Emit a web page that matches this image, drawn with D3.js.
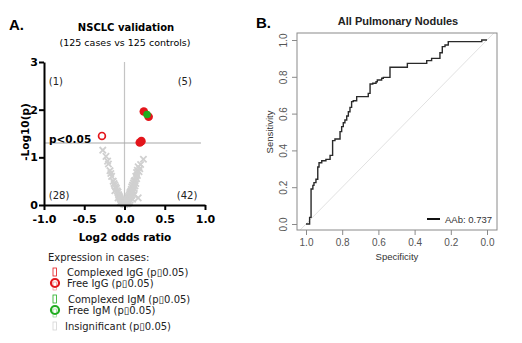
<!DOCTYPE html>
<html>
<head>
<meta charset="utf-8">
<script src="https://cdn.jsdelivr.net/npm/d3@7"></script>
<style>
  body { margin: 0; background: #fff; }
  svg { display: block; }
</style>
</head>
<body>
<div id="chart"></div>
<script>
// Volcano plot: insignificant antigens (log2 OR, -log10 p)
const insigLeft = [
  [-0.27, 1.15], [-0.23, 1.02], [-0.21, 0.92], [-0.2, 0.86], [-0.18, 0.72], [-0.17, 0.66],
  [-0.16, 0.6], [-0.14, 0.5], [-0.13, 0.45], [-0.12, 0.42], [-0.11, 0.38], [-0.1, 0.35],
  [-0.09, 0.3], [-0.08, 0.27], [-0.075, 0.22], [-0.07, 0.2], [-0.06, 0.17], [-0.055, 0.14],
  [-0.05, 0.12], [-0.04, 0.1], [-0.035, 0.08], [-0.03, 0.06], [-0.02, 0.05], [-0.015, 0.03],
  [-0.01, 0.02], [-0.12, 0.3], [-0.08, 0.15], [-0.05, 0.06]
];
const insigRight = [
  [0.235, 0.96], [0.2, 0.85], [0.17, 0.8], [0.16, 0.73], [0.15, 0.68], [0.14, 0.6],
  [0.13, 0.52], [0.12, 0.5], [0.11, 0.46], [0.1, 0.42], [0.09, 0.38], [0.085, 0.33],
  [0.08, 0.3], [0.07, 0.27], [0.065, 0.24], [0.06, 0.21], [0.05, 0.18], [0.045, 0.15],
  [0.04, 0.12], [0.03, 0.1], [0.025, 0.08], [0.02, 0.05], [0.01, 0.03], [0.005, 0.01],
  [0.17, 0.15], [0.15, 0.55], [0.13, 0.4], [0.12, 0.35], [0.11, 0.3], [0.1, 0.25],
  [0.09, 0.2], [0.08, 0.15], [0.07, 0.1], [0.06, 0.06], [0.14, 0.45], [0.16, 0.62],
  [0.18, 0.7], [0.12, 0.22], [0.1, 0.12], [0.05, 0.04], [0.19, 0.76], [0.035, 0.02]
];
// significant hits
const complexedIgG = [[0.24, 1.96], [0.3, 1.85], [0.19, 1.31], [0.21, 1.34]];
const freeIgG = [[-0.28, 1.45]];
const complexedIgM = [[0.28, 1.9]];
const quadrantCounts = [
  {label: "(1)", x: -0.94, y: 2.6},
  {label: "(5)", x: 0.66, y: 2.6},
  {label: "(28)", x: -0.94, y: 0.2},
  {label: "(42)", x: 0.65, y: 0.2}
];
const volcanoXTicks = [-1, -0.5, 0, 0.5, 1];
const volcanoYTicks = [0, 1, 2, 3];
const pThreshold = 0.05;

const legendItems = [
  {label: "Complexed IgG (p\u25AF0.05)", color: "#e3151b", circle: false},
  {label: "Free IgG (p\u25AF0.05)", color: "#e3151b", circle: true},
  {label: "Complexed IgM (p\u25AF0.05)", color: "#1fad1f", circle: false},
  {label: "Free IgM (p\u25AF0.05)", color: "#1fad1f", circle: true},
  {label: "Insignificant (p\u25AF0.05)", color: "#d4d4d4", circle: false}
];

// ROC curve for all pulmonary nodules (specificity, sensitivity)
const rocSpec = [1.0, 0.98, 0.98, 0.972, 0.972, 0.962, 0.962, 0.956, 0.956, 0.945, 0.945, 0.935, 0.935,
  0.928, 0.928, 0.913, 0.913, 0.89, 0.89, 0.867, 0.867, 0.853, 0.853, 0.84, 0.84, 0.812, 0.812,
  0.803, 0.803, 0.794, 0.794, 0.785, 0.785, 0.775, 0.775, 0.766, 0.766, 0.757, 0.757, 0.748, 0.748,
  0.739, 0.739, 0.72, 0.72, 0.656, 0.656, 0.646, 0.646, 0.631, 0.631, 0.613, 0.613, 0.606, 0.606,
  0.582, 0.582, 0.573, 0.573, 0.536, 0.536, 0.44, 0.44, 0.333, 0.333, 0.306, 0.306, 0.26, 0.26,
  0.247, 0.247, 0.232, 0.232, 0.214, 0.214, 0.029, 0.029, 0.0];
const rocSens = [0, 0, 0.036, 0.036, 0.19, 0.19, 0.21, 0.21, 0.225, 0.225, 0.243, 0.243, 0.31,
  0.31, 0.333, 0.333, 0.344, 0.344, 0.351, 0.351, 0.373, 0.373, 0.453, 0.453, 0.462, 0.462, 0.502,
  0.502, 0.529, 0.529, 0.55, 0.55, 0.565, 0.565, 0.587, 0.587, 0.61, 0.61, 0.634, 0.634, 0.665,
  0.665, 0.67, 0.67, 0.692, 0.692, 0.71, 0.71, 0.761, 0.761, 0.765, 0.765, 0.773, 0.773, 0.783,
  0.783, 0.792, 0.792, 0.797, 0.797, 0.852, 0.852, 0.873, 0.873, 0.888, 0.888, 0.9, 0.9, 0.931,
  0.931, 0.964, 0.964, 0.973, 0.973, 0.991, 0.991, 1.0, 1.0];
const rocTicks = [0, 0.2, 0.4, 0.6, 0.8, 1.0];
const aucLabel = "AAb: 0.737";

const width = 522, height = 343;
const volcanoFont = "'DejaVu Sans', Verdana, sans-serif";
const rFont = "'Liberation Sans', Arial, sans-serif";

const svg = d3.select("#chart").append("svg")
    .attr("width", width)
    .attr("height", height);

svg.append("rect").attr("width", width).attr("height", height).attr("fill", "#fff");

// ---------- panel A: volcano ----------
const vx = d3.scaleLinear().domain([-1, 1]).range([44, 205]);
const vy = d3.scaleLinear().domain([0, 3]).range([205, 62]);

const gA = svg.append("g").style("font-family", volcanoFont);

gA.append("text").attr("x", 9).attr("y", 30)
    .style("font-family", rFont).style("font-weight", "bold").style("font-size", "15px")
    .text("A.");
gA.append("text").attr("x", 126).attr("y", 31).attr("text-anchor", "middle")
    .style("font-weight", "bold").style("font-size", "10px")
    .text("NSCLC validation");
gA.append("text").attr("x", 125).attr("y", 46).attr("text-anchor", "middle")
    .style("font-size", "9.5px")
    .text("(125 cases vs 125 controls)");

// reference lines
gA.append("line")
    .attr("x1", vx(0)).attr("x2", vx(0))
    .attr("y1", vy(3)).attr("y2", vy(0))
    .attr("stroke", "#c4c4c4").attr("stroke-width", 1.2);
gA.append("line")
    .attr("x1", vx(-1)).attr("x2", vx(0.95))
    .attr("y1", vy(-Math.log10(pThreshold))).attr("y2", vy(-Math.log10(pThreshold)))
    .attr("stroke", "#a8a8a8").attr("stroke-width", 1.2);

// insignificant markers (stroked crosses)
const cross = d3.symbol().type(d3.symbolTimes).size(28);
gA.append("g").selectAll("path")
  .data(insigLeft.concat(insigRight))
  .join("path")
    .attr("d", cross)
    .attr("transform", d => `translate(${vx(d[0])},${vy(d[1])})`)
    .attr("fill", "none")
    .attr("stroke", "#d0d0d0")
    .attr("stroke-width", 1.8);

gA.append("g").selectAll("circle")
  .data(complexedIgG)
  .join("circle")
    .attr("cx", d => vx(d[0])).attr("cy", d => vy(d[1])).attr("r", 4.3)
    .attr("fill", "#e3151b");
gA.append("g").selectAll("circle")
  .data(complexedIgM)
  .join("circle")
    .attr("cx", d => vx(d[0])).attr("cy", d => vy(d[1])).attr("r", 3.8)
    .attr("fill", "#1fad1f");
gA.append("g").selectAll("circle")
  .data(freeIgG)
  .join("circle")
    .attr("cx", d => vx(d[0])).attr("cy", d => vy(d[1])).attr("r", 3.4)
    .attr("fill", "none").attr("stroke", "#e3151b").attr("stroke-width", 1.7);

gA.append("text").attr("x", 49).attr("y", 143)
    .style("font-weight", "bold").style("font-size", "10.5px")
    .text("p<0.05");

gA.append("g").selectAll("text")
  .data(quadrantCounts)
  .join("text")
    .attr("x", d => vx(d.x)).attr("y", d => vy(d.y) + 4)
    .style("font-size", "10px").attr("fill", "#222")
    .text(d => d.label);

// axes
const vxAxis = gA.append("g")
    .attr("transform", `translate(0,${vy(0)})`)
    .call(d3.axisBottom(vx).tickValues(volcanoXTicks).tickSize(5).tickSizeOuter(0)
      .tickFormat(d => d.toFixed(1)));
const vyAxis = gA.append("g")
    .attr("transform", `translate(${vx(-1)},0)`)
    .call(d3.axisLeft(vy).tickValues(volcanoYTicks).tickSize(5).tickSizeOuter(0)
      .tickFormat(d3.format("d")));
[vxAxis, vyAxis].forEach(a => {
  a.select(".domain").attr("stroke", "#000").attr("stroke-width", 2);
  a.selectAll(".tick line").attr("stroke", "#000").attr("stroke-width", 2);
  a.selectAll(".tick text").attr("fill", "#000")
    .style("font-family", volcanoFont).style("font-weight", "bold").style("font-size", "11px");
});
vxAxis.selectAll(".tick text").attr("dy", "0.71em").attr("y", 10);
vyAxis.selectAll(".tick text").attr("x", -6);

gA.append("text").attr("x", 125).attr("y", 241).attr("text-anchor", "middle")
    .style("font-weight", "bold").style("font-size", "10.5px")
    .text("Log2 odds ratio");
gA.append("text")
    .attr("transform", "translate(29,132) rotate(-90)").attr("text-anchor", "middle")
    .style("font-weight", "bold").style("font-size", "10.5px")
    .text("-Log10(p)");

// legend
const legend = gA.append("g");
legend.append("text").attr("x", 48).attr("y", 261)
    .style("font-size", "10px").attr("fill", "#222")
    .text("Expression in cases:");
const legendY = [272, 283, 299, 310, 326];
const legendTextX = [67, 67, 68, 68, 65];
legendItems.forEach((d, i) => {
  const yPos = legendY[i];
  if (d.circle) {
    legend.append("rect").attr("x", 53).attr("y", yPos - 1).attr("width", 3.5).attr("height", 8)
        .attr("fill", "none").attr("stroke", d.color).attr("stroke-width", 0.6).attr("opacity", 0.6);
    legend.append("circle").attr("cx", 55).attr("cy", yPos).attr("r", 4)
        .attr("fill", "none").attr("stroke", d.color).attr("stroke-width", 2.2);
  } else {
    legend.append("rect").attr("x", 53).attr("y", yPos - 4).attr("width", 3.5).attr("height", 8)
        .attr("fill", "none").attr("stroke", d.color).attr("stroke-width", 0.8);
  }
  legend.append("text").attr("x", legendTextX[i]).attr("y", yPos + 4)
      .style("font-size", "10px").attr("fill", "#222")
      .text(d.label);
});

// ---------- panel B: ROC ----------
const rx = d3.scaleLinear().domain([1, 0]).range([306, 487]);
const ry = d3.scaleLinear().domain([0, 1]).range([224, 40]);
const box = {x0: 297, x1: 497, y0: 33, y1: 230};

const gB = svg.append("g").style("font-family", rFont);

gB.append("text").attr("x", 256).attr("y", 28)
    .style("font-weight", "bold").style("font-size", "15px")
    .text("B.");
gB.append("text").attr("x", 398).attr("y", 25).attr("text-anchor", "middle")
    .style("font-weight", "bold").style("font-size", "11px").attr("fill", "#222")
    .text("All Pulmonary Nodules");

gB.append("clipPath").attr("id", "roc-clip")
  .append("rect")
    .attr("x", box.x0).attr("y", box.y0)
    .attr("width", box.x1 - box.x0).attr("height", box.y1 - box.y0);

// chance diagonal
gB.append("line")
    .attr("clip-path", "url(#roc-clip)")
    .attr("x1", rx(1.06)).attr("y1", ry(-0.06))
    .attr("x2", rx(-0.06)).attr("y2", ry(1.06))
    .attr("stroke", "#e2e2e2").attr("stroke-width", 1);

const rocLine = d3.line()
    .x(i => rx(rocSpec[i]))
    .y(i => ry(rocSens[i]));
gB.append("path")
    .datum(d3.range(rocSpec.length))
    .attr("d", rocLine)
    .attr("fill", "none").attr("stroke", "#2a2a2a").attr("stroke-width", 1.4);

gB.append("rect")
    .attr("x", box.x0).attr("y", box.y0)
    .attr("width", box.x1 - box.x0).attr("height", box.y1 - box.y0)
    .attr("fill", "none").attr("stroke", "#8a8a8a").attr("stroke-width", 1);

const rxAxis = gB.append("g")
    .attr("transform", `translate(0,${box.y1})`)
    .call(d3.axisBottom(rx).tickValues(rocTicks).tickSize(5).tickSizeOuter(0)
      .tickFormat(d => d.toFixed(1)));
const ryAxis = gB.append("g")
    .attr("transform", `translate(${box.x0},0)`)
    .call(d3.axisLeft(ry).tickValues(rocTicks).tickSize(5).tickSizeOuter(0)
      .tickFormat(d => d.toFixed(1)));
[rxAxis, ryAxis].forEach(a => {
  a.select(".domain").remove();
  a.selectAll(".tick line").attr("stroke", "#8a8a8a");
  a.selectAll(".tick text").attr("fill", "#555")
    .style("font-family", rFont).style("font-size", "10px");
});
rxAxis.selectAll(".tick text").attr("y", 9);
ryAxis.selectAll(".tick text")
    .attr("x", 0).attr("dy", 0).attr("text-anchor", "middle")
    .attr("transform", "translate(-10,0) rotate(-90)");

gB.append("text").attr("x", 397).attr("y", 260).attr("text-anchor", "middle")
    .style("font-size", "9.5px").attr("fill", "#333")
    .text("Specificity");
gB.append("text")
    .attr("transform", "translate(273,132) rotate(-90)").attr("text-anchor", "middle")
    .style("font-size", "9.5px").attr("fill", "#333")
    .text("Sensitivity");

// legend
gB.append("line").attr("x1", 427).attr("x2", 440).attr("y1", 219).attr("y2", 219)
    .attr("stroke", "#111").attr("stroke-width", 2);
gB.append("text").attr("x", 445).attr("y", 222.5)
    .style("font-size", "9.5px").attr("fill", "#333")
    .text(aucLabel);
</script>
</body>
</html>
